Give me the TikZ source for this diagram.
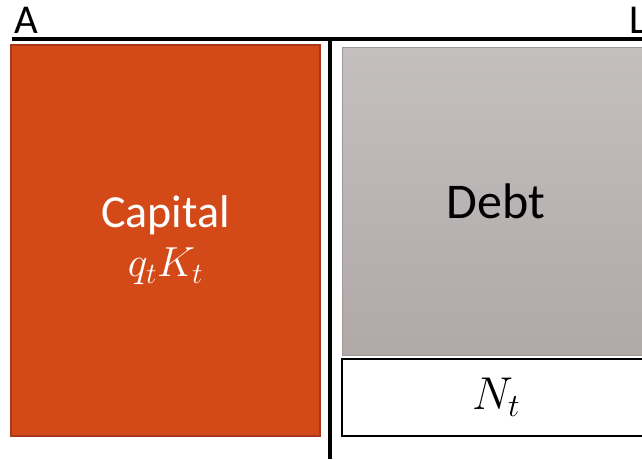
\RequirePackage{fix-cm}
\documentclass[tikz,border=0pt]{standalone}
\usepackage{fontspec}
\setmainfont{Carlito}
\usetikzlibrary{positioning}
\definecolor{capfill}{RGB}{211,74,24}
\definecolor{capdraw}{RGB}{165,57,26}
\definecolor{debttop}{RGB}{196,191,191}
\definecolor{debtbot}{RGB}{177,168,168}
\definecolor{debtdraw}{RGB}{160,152,152}

\begin{document}
\begin{tikzpicture}[x=1pt, y=-1pt,
    box/.style={rectangle, draw, inner sep=0pt, align=center},
    rule/.style={line width=3.5pt},
    side/.style={anchor=base west, inner sep=0pt, font=\fontsize{41}{41}\selectfont}]

    \clip (0,0) rectangle (642,459);

    % side labels
    \node[side] (assets) at (14,33) {A};
    \node[side] (liab) at (629,33) {L};

    % T-account lines
    \coordinate (tl) at (12,39);
    \coordinate (tr) at (642,39);
    \coordinate (mid) at (330,39);
    \coordinate (bot) at (330,459);
    \draw[rule] (tl) -- (tr);
    \draw[rule] (mid) -- (bot);

    % asset side
    \node[box, fill=capfill, draw=capdraw, line width=1.5pt, text=white,
        minimum width=309pt, minimum height=391pt,
        font=\fontsize{46}{53}\selectfont] (capital) at (165.5,240.5)
        {Capital\\[-4pt]{\fontsize{42}{53}\selectfont $q_tK_t$}};

    % liability side
    \node[box, top color=debttop, bottom color=debtbot, draw=debtdraw, line width=1pt,
        minimum width=308pt, minimum height=308pt,
        font=\fontsize{50}{55}\selectfont] (debt) at (496,201) {Debt};
    \node[box, fill=white, line width=2pt,
        minimum width=308pt, minimum height=77pt,
        font=\fontsize{46}{50}\selectfont] (equity) at (496,397.5) {$N_t$};
\end{tikzpicture}
\end{document}
